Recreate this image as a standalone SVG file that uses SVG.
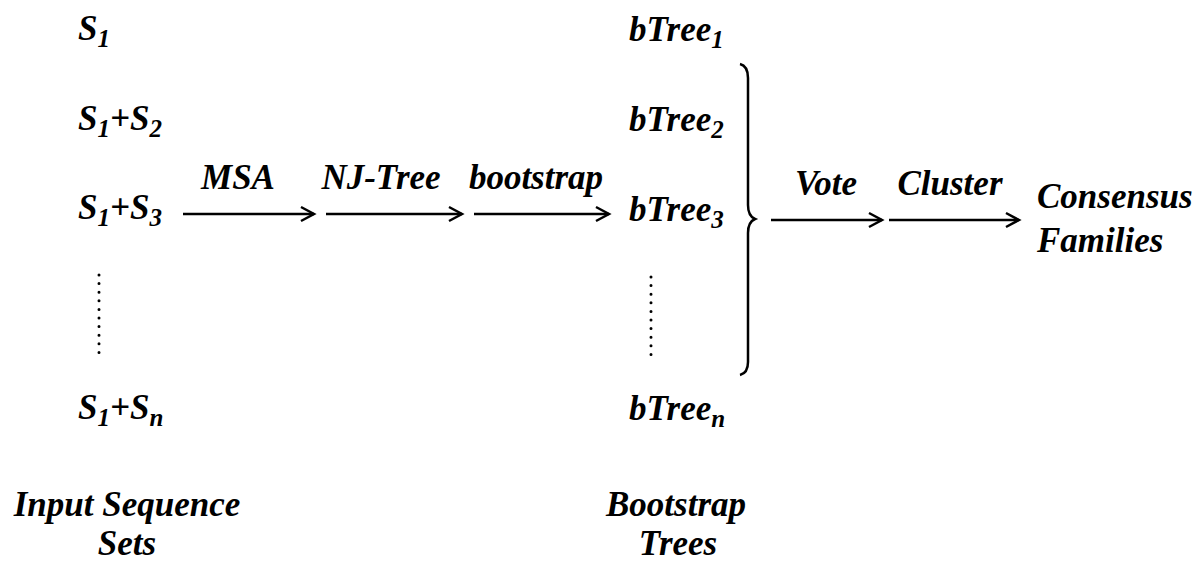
<svg xmlns="http://www.w3.org/2000/svg" width="1202" height="566" viewBox="0 0 1202 566">
<defs>
<style>
text{font-family:'Liberation Serif','Times New Roman',serif;font-weight:bold;font-style:italic;font-size:35px;fill:#000}
.sub{font-size:25px}
.c{text-anchor:middle}
.ln{stroke:#000;stroke-width:2.5;fill:none}
.dot{stroke:#000;stroke-width:3;stroke-linecap:round;stroke-dasharray:0 8.6;fill:none}
</style>
<marker id="ah" viewBox="0 0 20 20" refX="16" refY="10" markerWidth="20" markerHeight="20" markerUnits="userSpaceOnUse" orient="auto">
<path d="M3,3 L16,10 L3,17" stroke="#000" stroke-width="2.5" fill="none"/>
</marker>
</defs>
<rect width="1202" height="566" fill="#fff"/>
<g id="inputs">
<text x="78" y="40">S<tspan class="sub" dy="7">1</tspan></text>
<text x="78" y="130">S<tspan class="sub" dy="7">1</tspan><tspan dy="-7">+S</tspan><tspan class="sub" dy="7">2</tspan></text>
<text x="78" y="219">S<tspan class="sub" dy="7">1</tspan><tspan dy="-7">+S</tspan><tspan class="sub" dy="7">3</tspan></text>
<path class="dot" d="M99,275 V353"/>
<text x="78" y="419">S<tspan class="sub" dy="7">1</tspan><tspan dy="-7">+S</tspan><tspan class="sub" dy="7">n</tspan></text>
<text x="127" y="516" class="c">Input Sequence</text>
<text x="127" y="555" class="c">Sets</text>
</g>
<g id="trees">
<text x="629" y="41">bTree<tspan class="sub" dy="7">1</tspan></text>
<text x="629" y="131">bTree<tspan class="sub" dy="7">2</tspan></text>
<text x="629" y="221">bTree<tspan class="sub" dy="7">3</tspan></text>
<path class="dot" d="M651,277 V355"/>
<text x="629" y="420">bTree<tspan class="sub" dy="7">n</tspan></text>
<text x="676" y="516" class="c">Bootstrap</text>
<text x="678" y="555" class="c">Trees</text>
</g>
<g id="brace">
<path class="ln" d="M740,64 Q748,66 748,78 V205 Q748,216 755,219 Q748,222 748,233 V362 Q748,373 740,375"/>
</g>
<g id="result">
<text x="1037" y="208">Consensus</text>
<text x="1037" y="252">Families</text>
</g>
<g id="connectors">
<line class="ln" x1="183" y1="214" x2="314" y2="214" marker-end="url(#ah)"/>
<line class="ln" x1="326" y1="214" x2="462" y2="214" marker-end="url(#ah)"/>
<line class="ln" x1="474" y1="214" x2="609" y2="214" marker-end="url(#ah)"/>
<line class="ln" x1="771" y1="220" x2="882" y2="220" marker-end="url(#ah)"/>
<line class="ln" x1="889" y1="220" x2="1019" y2="220" marker-end="url(#ah)"/>
<text x="238" y="189" class="c">MSA</text>
<text x="381" y="189" class="c">NJ-Tree</text>
<text x="536" y="189" class="c">bootstrap</text>
<text x="826" y="195" class="c">Vote</text>
<text x="950" y="195" class="c">Cluster</text>
</g>
</svg>
